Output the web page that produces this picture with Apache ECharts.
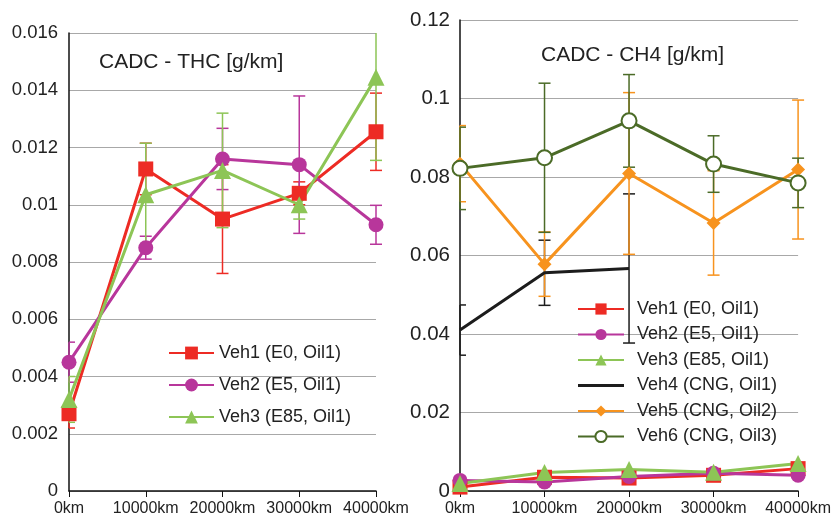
<!DOCTYPE html>
<html>
<head>
<meta charset="utf-8">
<script src="https://cdn.jsdelivr.net/npm/echarts@6/dist/echarts.min.js"></script>
<style>
  html, body { margin: 0; padding: 0; background: #fff; }
  #chart { width: 834px; height: 517px; }
</style>
</head>
<body>
<div id="chart"></div>
<script>
// 里程分类
const mileage = ['0km', '10000km', '20000km', '30000km', '40000km'];
const names = ['Veh1 (E0, Oil1)', 'Veh2 (E5, Oil1)', 'Veh3 (E85, Oil1)', 'Veh4 (CNG, Oil1)', 'Veh5 (CNG, Oil2)', 'Veh6 (CNG, Oil3)'];

// THC [g/km] 均值与误差
const thcVeh1 = [0.0027, 0.01125, 0.0095, 0.0104, 0.01255];
const thcVeh1Err = [0.0005, 0.0009, 0.0019, 0.0004, 0.00135];
const thcVeh2 = [0.0045, 0.0085, 0.0116, 0.0114, 0.0093];
const thcVeh2Err = [0.0007, 0.0004, 0.00107, 0.0024, 0.00068];
const thcVeh3 = [0.0032, 0.01035, 0.0112, 0.0100, 0.01445];
const thcVeh3Err = [0.0008, 0.0018, 0.0020, 0.0005, 0.0029];

// CH4 [g/km] 均值与误差
const ch4Veh1 = [0.0010, 0.0035, 0.0033, 0.0040, 0.0057];
const ch4Veh2 = [0.0027, 0.0023, 0.0037, 0.0045, 0.0040];
const ch4Veh3 = [0.0019, 0.0047, 0.0055, 0.0048, 0.0070];
const ch4Veh4 = [0.0410, 0.0556, 0.0567, null, null];
const ch4Veh4Err = [0.0064, 0.0083, 0.0190, null, null];
const ch4Veh5 = [0.0834, 0.0578, 0.0809, 0.0683, 0.0819];
const ch4Veh5Err = [0.0097, 0.0082, 0.0206, 0.0133, 0.0177];
const ch4Veh6 = [0.0822, 0.0849, 0.0943, 0.0833, 0.0785];
const ch4Veh6Err = [0.0105, 0.0190, 0.0118, 0.0072, 0.0063];

const thcTicks = { min: 0, max: 0.016, interval: 0.002 };
const ch4Ticks = { min: 0, max: 0.12, interval: 0.02 };

const colors = ['#ed2b24', '#b8369b', '#8dc556', '#1c1c1c', '#f7931e', '#4b6b27'];
const symbols = ['rect', 'circle', 'triangle', 'none', 'diamond', 'circle'];
const sizes = [15, 15, 17, 0, 14, 15];

const myChart = echarts.init(document.getElementById('chart'));

// 误差棒
function renderErr(params, api) {
  const cs = params.coordSys;
  const x = api.value(0), v = api.value(1), e = api.value(2);
  const top = api.coord([x, v + e]);
  const bot = api.coord([x, v - e]);
  const clampY = y => Math.max(cs.y, Math.min(cs.y + cs.height, y));
  const cx = top[0];
  const half = 6;
  const l = Math.max(cs.x, cx - half);
  const r = cx + half;
  const yt = clampY(top[1]);
  const yb = clampY(bot[1]);
  const style = { stroke: api.visual('color'), lineWidth: 1.5 };
  const children = [{ type: 'line', shape: { x1: cx, y1: yt, x2: cx, y2: yb }, style }];
  if (top[1] >= cs.y) children.push({ type: 'line', shape: { x1: l, y1: yt, x2: r, y2: yt }, style });
  if (bot[1] <= cs.y + cs.height) children.push({ type: 'line', shape: { x1: l, y1: yb, x2: r, y2: yb }, style });
  return { type: 'group', children };
}

function errSeries(idx, vals, errs, axis) {
  const data = [];
  vals.forEach((v, i) => { if (v != null && errs[i] != null) data.push([i, v, errs[i]]); });
  return {
    type: 'custom', name: 'err' + idx + '_' + axis, xAxisIndex: axis, yAxisIndex: axis,
    renderItem: renderErr, data, itemStyle: { color: colors[idx] }, z: 1, silent: true
  };
}

function lineSeries(idx, vals, axis) {
  const s = {
    type: 'line', name: names[idx], xAxisIndex: axis, yAxisIndex: axis, data: vals,
    symbol: symbols[idx], symbolSize: sizes[idx], showSymbol: symbols[idx] !== 'none',
    color: colors[idx], lineStyle: { width: 3, color: colors[idx] },
    itemStyle: { color: colors[idx] }, z: 3, animation: false
  };
  if (idx === 5) s.itemStyle = { color: '#fff', borderColor: colors[idx], borderWidth: 2 };
  return s;
}

function xAxis(gridIndex) {
  return {
    type: 'category', gridIndex, data: mileage, boundaryGap: false,
    axisLine: { lineStyle: { color: '#111', width: 1.5 } },
    axisTick: { show: true, length: 6, interval: 0, lineStyle: { color: '#111' } },
    axisLabel: { color: '#222', fontSize: 16, margin: 10, interval: 0, fontFamily: 'Liberation Sans' },
    splitLine: { show: false }
  };
}

function yAxis(gridIndex, t, fs, margin) {
  return {
    type: 'value', gridIndex, min: t.min, max: t.max, interval: t.interval,
    axisLine: { show: true, lineStyle: { color: '#111', width: 1.5 } },
    axisTick: { show: false },
    axisLabel: { color: '#222', fontSize: fs, margin, fontFamily: 'Liberation Sans' },
    splitLine: { lineStyle: { color: '#a8a8a8', width: 1.2 } }
  };
}

// Veh4 图例只画线
const legendRight = names.map(n => n === names[3]
  ? { name: n, icon: 'path://M0,0 L46,0 L46,3.2 L0,3.2 Z' }
  : n);

const option = {
  animation: false,
  textStyle: { fontFamily: 'Liberation Sans' },
  grid: [
    { left: 69, top: 33, width: 307, height: 458 },
    { left: 460, top: 20, width: 343, height: 471 }
  ],
  title: [
    { text: 'CADC - THC [g/km]', left: 94, top: 47,
      textStyle: { fontSize: 21, fontWeight: 'normal', color: '#222', fontFamily: 'Liberation Sans' } },
    { text: 'CADC - CH4 [g/km]', left: 536, top: 40,
      textStyle: { fontSize: 21, fontWeight: 'normal', color: '#222', fontFamily: 'Liberation Sans' } }
  ],
  legend: [
    { data: names.slice(0, 3), orient: 'vertical', left: 168, top: 344, padding: 0,
      itemWidth: 45, itemHeight: 16, itemGap: 14,
      textStyle: { fontSize: 18, color: '#222' } },
    { data: legendRight, orient: 'vertical', left: 577, top: 300, padding: 0,
      itemWidth: 46, itemHeight: 14, itemGap: 7.5,
      textStyle: { fontSize: 18, color: '#222', padding: [0, 0, 0, 8] } }
  ],
  xAxis: [xAxis(0), xAxis(1)],
  yAxis: [yAxis(0, thcTicks, 18.5, 11), yAxis(1, ch4Ticks, 20.5, 10)],
  series: [
    errSeries(0, thcVeh1, thcVeh1Err, 0),
    errSeries(1, thcVeh2, thcVeh2Err, 0),
    errSeries(2, thcVeh3, thcVeh3Err, 0),
    lineSeries(0, thcVeh1, 0),
    lineSeries(1, thcVeh2, 0),
    lineSeries(2, thcVeh3, 0),
    errSeries(3, ch4Veh4, ch4Veh4Err, 1),
    errSeries(4, ch4Veh5, ch4Veh5Err, 1),
    errSeries(5, ch4Veh6, ch4Veh6Err, 1),
    lineSeries(0, ch4Veh1, 1),
    lineSeries(1, ch4Veh2, 1),
    lineSeries(2, ch4Veh3, 1),
    lineSeries(3, ch4Veh4, 1),
    lineSeries(4, ch4Veh5, 1),
    lineSeries(5, ch4Veh6, 1)
  ]
};

myChart.setOption(option);
window.addEventListener('resize', function () { myChart.resize(); });
</script>
</body>
</html>
